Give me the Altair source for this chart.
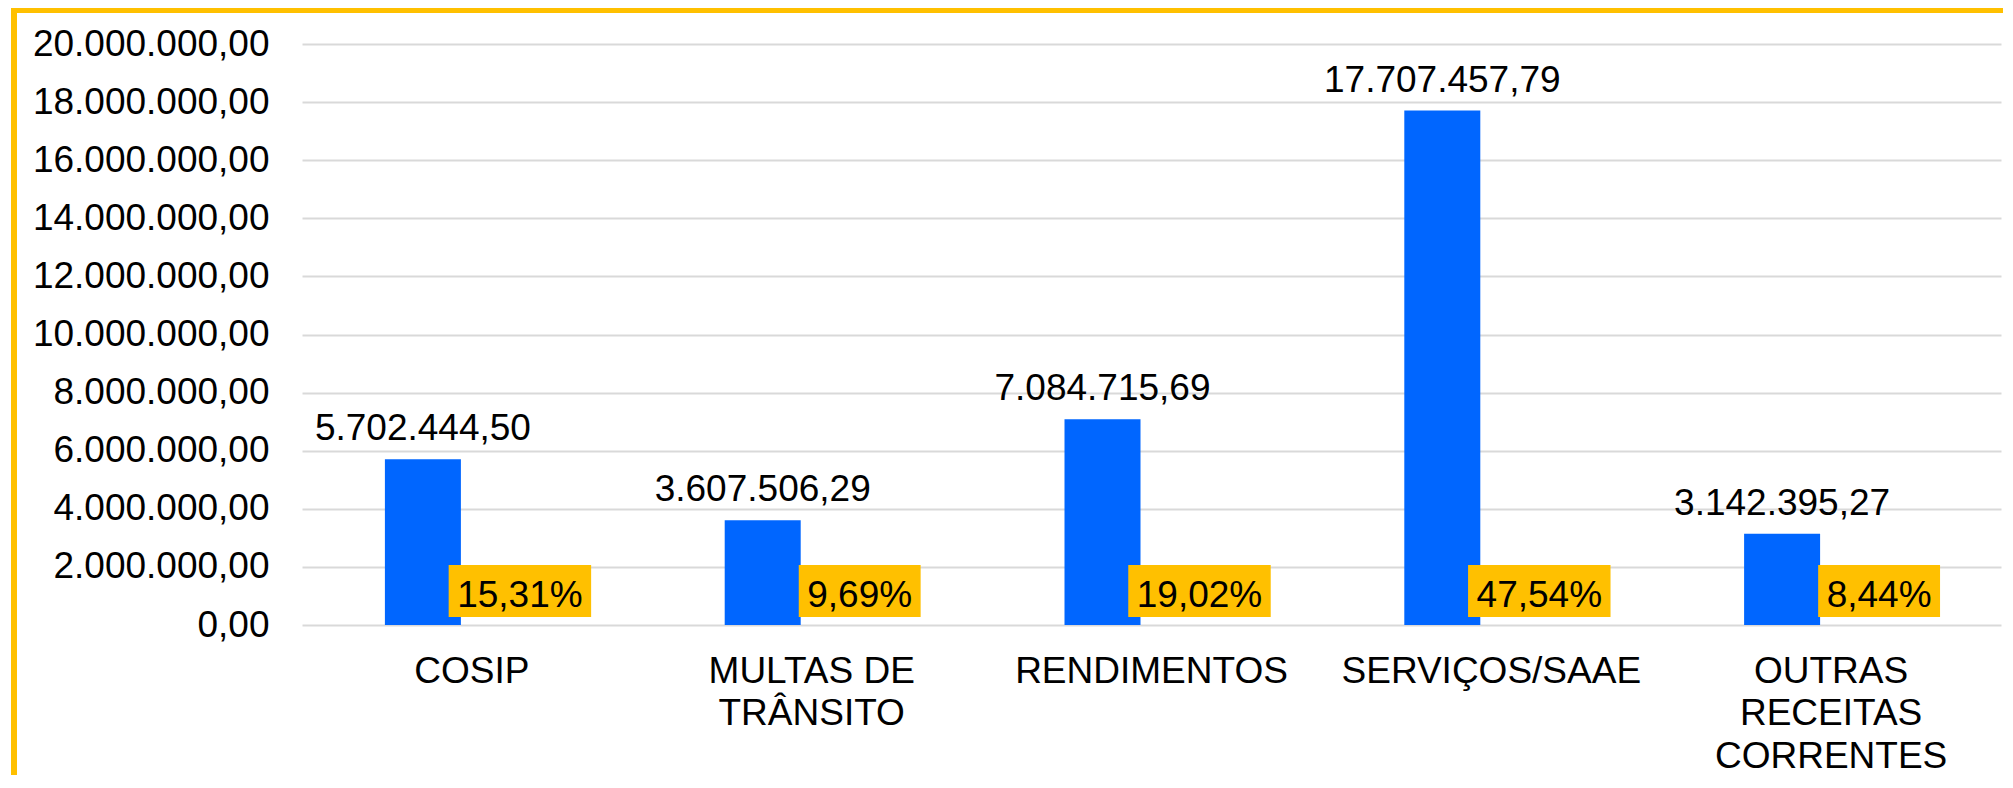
import altair as alt
import pandas as pd

# ---- data ----
categorias = ["COSIP", "MULTAS DE\nTRÂNSITO", "RENDIMENTOS", "SERVIÇOS/SAAE", "OUTRAS\nRECEITAS\nCORRENTES"]
valores = [5702444.50, 3607506.29, 7084715.69, 17707457.79, 3142395.27]
percentuais = [15.31, 9.69, 19.02, 47.54, 8.44]
ticks_y = [0, 2000000, 4000000, 6000000, 8000000, 10000000,
           12000000, 14000000, 16000000, 18000000, 20000000]

df = pd.DataFrame({"cat": categorias, "valor": valores, "pct": percentuais})

FS = 37
FONT = "Liberation Sans"
AZUL = "#0066FF"
AMARELO = "#FFC000"
W, H = 1699, 581

br = "replace(replace(replace(format({v}, ',.2f'), /,/g, '#'), /\\./g, ','), /#/g, '.')"

x_enc = alt.X("cat:N", sort=categorias,
              scale=alt.Scale(paddingInner=0, paddingOuter=0),
              axis=alt.Axis(title=None, labelAngle=0, domain=False, ticks=False, grid=False,
                            labelFont=FONT, labelFontSize=FS, labelColor="#000000",
                            labelPadding=28, labelLineHeight=42.5, labelBaseline="top",
                            labelLimit=0, labelOverlap=False,
                            labelExpr="split(datum.label, '\\n')"))

y_scale = alt.Scale(domain=[0, 20000000], nice=False)

base = alt.Chart(df).transform_calculate(
    lbl=br.format(v="datum.valor"),
    pct_lbl="replace(format(datum.pct, '.2f'), '.', ',') + '%'",
).transform_calculate(
    boxw=f"(length(datum.pct_lbl) - 2) * 0.556 * {FS} + 1.167 * {FS} + 17"
)

bars = base.mark_bar(color=AZUL, width=76, xOffset=-49).encode(
    x=x_enc,
    y=alt.Y("valor:Q", scale=y_scale,
            axis=alt.Axis(title=None, values=ticks_y, domain=False, ticks=False,
                          grid=True, gridColor="#d9d9d9", gridWidth=2,
                          labelFont=FONT, labelFontSize=FS, labelColor="#000000",
                          labelPadding=33, labelLimit=0, labelOverlap=False,
                          labelExpr=br.format(v="datum.value"))),
)

valor_txt = base.mark_text(font=FONT, fontSize=FS, color="#000000", baseline="alphabetic",
                           dy=-19, xOffset=-49).encode(
    x=alt.X("cat:N", sort=categorias),
    y=alt.Y("valor:Q", scale=y_scale),
    text="lbl:N",
)

caixa = base.mark_bar(color=AMARELO, xOffset=48, yOffset=-60, y2Offset=-8).encode(
    x=alt.X("cat:N", sort=categorias),
    y=alt.datum(0),
    y2=alt.datum(0),
    size=alt.Size("boxw:Q", scale=None, legend=None),
)

pct_txt = base.mark_text(font=FONT, fontSize=FS, color="#000000", baseline="alphabetic",
                         dy=-18, xOffset=48).encode(
    x=alt.X("cat:N", sort=categorias),
    y=alt.datum(0),
    text="pct_lbl:N",
)

borda_topo = alt.Chart(df).mark_rule(color=AMARELO, strokeWidth=6, strokeCap="round").encode(
    x=alt.value(-288), x2=alt.value(W + 10), y=alt.value(-34), y2=alt.value(-34)
)
borda_esq = alt.Chart(df).mark_rule(color=AMARELO, strokeWidth=6, strokeCap="round").encode(
    x=alt.value(-288), x2=alt.value(-288), y=alt.value(-34), y2=alt.value(H + 200)
)

chart = alt.layer(borda_topo, borda_esq, bars, valor_txt, caixa, pct_txt).properties(
    width=W, height=H,
    autosize=alt.AutoSizeParams(type="none"),
    padding={"left": 294, "top": 36, "right": 2, "bottom": 150},
    background="white",
).configure_view(stroke=None)

chart.save("out.html", embed_options={"renderer": "svg", "actions": False})
